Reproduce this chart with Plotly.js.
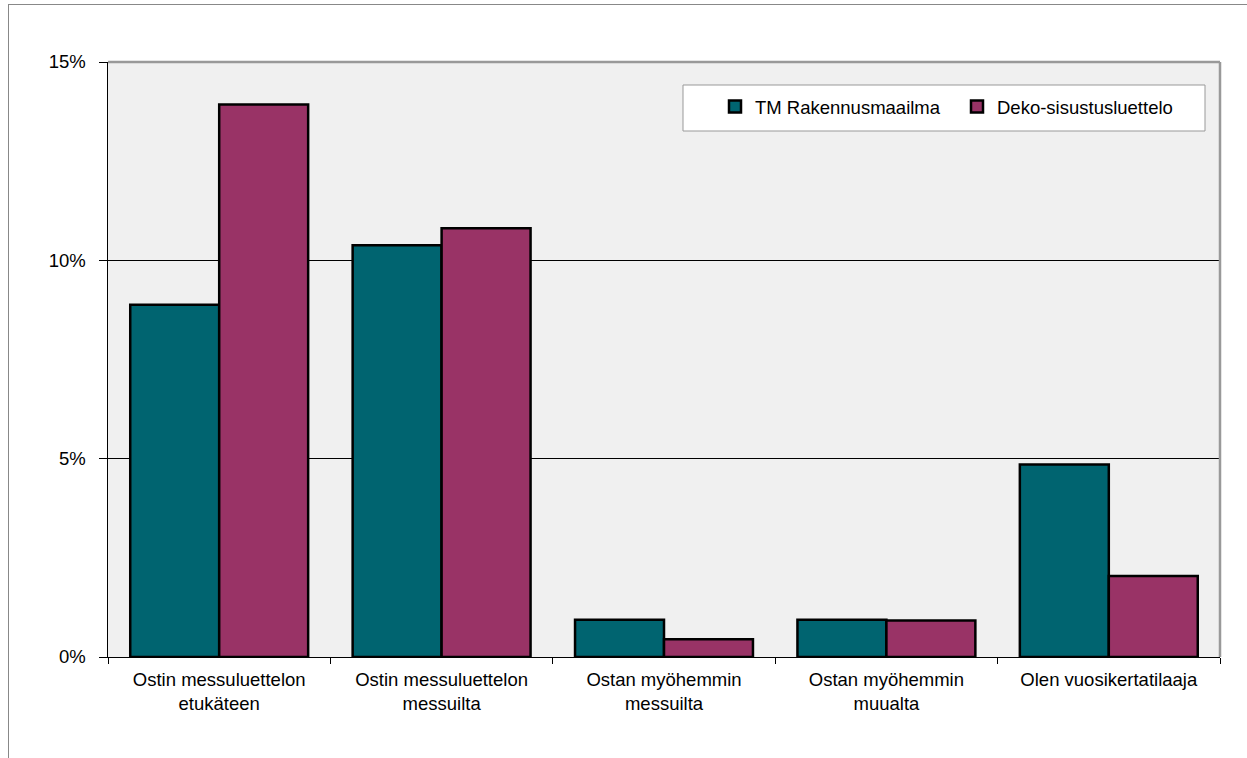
<!DOCTYPE html>
<html>
<head>
<meta charset="utf-8">
<script src="https://cdn.plot.ly/plotly-3.0.1.min.js"></script>
<style>
html,body{margin:0;padding:0;background:#fff;}
#frame{position:absolute;left:8px;top:4px;width:1260px;height:780px;border-left:1px solid #888;border-top:1px solid #888;pointer-events:none;}
#chart{position:absolute;left:0;top:0;width:1247px;height:758px;}
</style>
</head>
<body>
<div id="chart"></div>
<div id="frame"></div>
<script>
var categories = ["Ostin messuluettelon<br>etukäteen", "Ostin messuluettelon<br>messuilta", "Ostan myöhemmin<br>messuilta", "Ostan myöhemmin<br>muualta", "Olen vuosikertatilaaja"];
var seriesNames = ["TM Rakennusmaailma", "Deko-sisustusluettelo"];
var tmValues = [0.0888, 0.1038, 0.0094, 0.0094, 0.0485];
var dekoValues = [0.1393, 0.1081, 0.0045, 0.0092, 0.0204];
var yTicks = [0, 0.05, 0.10, 0.15];
var yTickLabels = ["0%", "5%", "10%", "15%"];

var traces = [
  {type:'bar', name:seriesNames[0], x:categories, y:tmValues,
   marker:{color:'#006470', line:{color:'#000', width:2.5}}},
  {type:'bar', name:seriesNames[1], x:categories, y:dekoValues,
   marker:{color:'#993366', line:{color:'#000', width:2.5}}}
];
var layout = {
  width:1247, height:758,
  margin:{l:108, r:27, t:62, b:101},
  paper_bgcolor:'#ffffff', plot_bgcolor:'#f0f0f0',
  font:{family:'Liberation Sans, Arial, sans-serif', size:18.5, color:'#000'},
  barmode:'group', bargap:0.2, bargroupgap:0,
  showlegend:true,
  legend:{orientation:'h', x:(715-108)/1112, y:(657-88)/595, xanchor:'left', yanchor:'top',
    bgcolor:'rgba(0,0,0,0)', borderwidth:0,
    font:{size:18.5}, entrywidth:197, itemwidth:30, traceorder:'normal'},
  xaxis:{type:'category', tickson:'boundaries', ticks:'outside', ticklen:6, tickcolor:'#000',
    showline:true, linecolor:'#000', linewidth:1, showgrid:false, fixedrange:true,
    ticklabelstandoff:6, tickfont:{size:18.5}},
  yaxis:{range:[0,0.15], tickvals:yTicks, ticktext:yTickLabels, ticks:'outside', ticklen:8,
    tickcolor:'#000', showline:true, linecolor:'#000', linewidth:1.5, ticklabelstandoff:9,
    showgrid:true, gridcolor:'#000', gridwidth:1, zeroline:false, tickfont:{size:18.5}},
  shapes:[
    {type:'rect', xref:'paper', yref:'paper', layer:'below',
     x0:(683-108)/1112, x1:(1205-108)/1112, y0:(657-131)/595, y1:(657-85)/595,
     fillcolor:'#ffffff', line:{color:'#999', width:1}},
    {type:'line', xref:'paper', yref:'paper', x0:0, x1:1, y0:1, y1:1, line:{color:'#999', width:2.5}},
    {type:'line', xref:'paper', yref:'paper', x0:1, x1:1, y0:0, y1:1, line:{color:'#999', width:2.5}}
  ]
};
Plotly.newPlot('chart', traces, layout, {displayModeBar:false, staticPlot:true});
</script>
</body>
</html>
